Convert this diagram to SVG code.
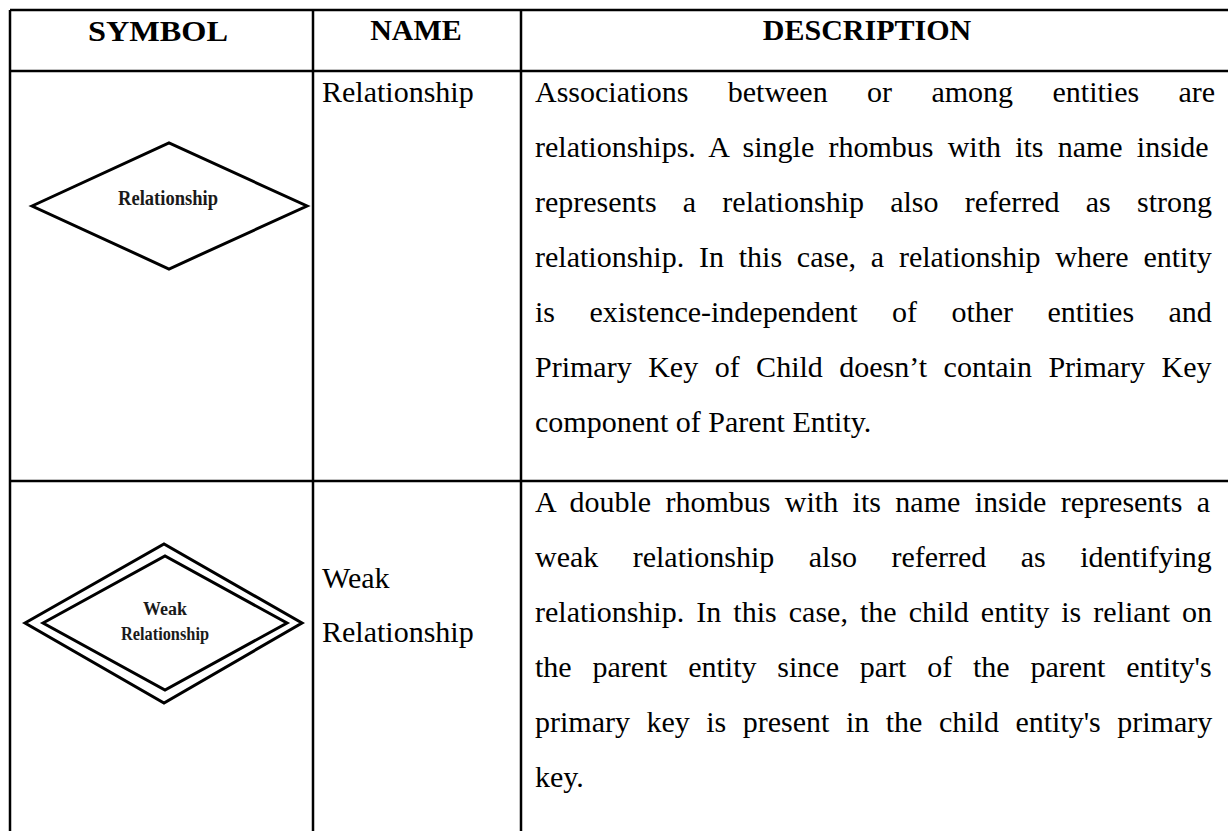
<svg xmlns="http://www.w3.org/2000/svg" width="1228" height="831" viewBox="0 0 1228 831">
  <style>
    .grid { stroke: #000; stroke-width: 2.5; fill: none; }
    .head { font-family: "Liberation Serif", "Times New Roman", serif; font-weight: bold; font-size: 30px; fill: #000; text-anchor: middle; }
    .body { font-family: "Liberation Serif", "Times New Roman", serif; font-size: 30px; fill: #000; }
    .shape { stroke: #000; stroke-width: 3; fill: #fff; stroke-linejoin: miter; }
    .label { font-family: "Liberation Serif", "Times New Roman", serif; font-weight: bold; fill: #1a1a1a; text-anchor: middle; }
  </style>

  <rect width="1228" height="831" fill="#fff"/>

  <!-- table rules -->
  <g id="grid" class="grid">
    <line x1="10" y1="10" x2="1228" y2="10"/>
    <line x1="10" y1="71" x2="1228" y2="71"/>
    <line x1="10" y1="481" x2="1228" y2="481"/>
    <line x1="10" y1="10" x2="10" y2="831"/>
    <line x1="313" y1="10" x2="313" y2="831"/>
    <line x1="521" y1="10" x2="521" y2="831"/>
  </g>

  <!-- column headings -->
  <g id="header">
    <text class="head" x="158" y="41" textLength="140" lengthAdjust="spacingAndGlyphs">SYMBOL</text>
    <text class="head" x="416" y="40">NAME</text>
    <text class="head" x="867" y="40">DESCRIPTION</text>
  </g>

  <!-- row: relationship -->
  <g id="relationship-symbol">
    <polygon class="shape" points="32,206 169,143 307,206 169,269"/>
    <text class="label" x="168" y="205" font-size="22" textLength="100" lengthAdjust="spacingAndGlyphs">Relationship</text>
  </g>
  <g id="relationship-name">
    <text class="body" x="322" y="102">Relationship</text>
  </g>
  <g id="relationship-description" class="body">
    <text x="535" y="102" word-spacing="31.9">Associations between or among entities are</text>
    <text x="535" y="157" word-spacing="6.7">relationships. A single rhombus with its name inside</text>
    <text x="535" y="212" word-spacing="18.7">represents a relationship also referred as strong</text>
    <text x="535" y="267" word-spacing="7.3">relationship. In this case, a relationship where entity</text>
    <text x="535" y="322" word-spacing="26.9">is existence-independent of other entities and</text>
    <text x="535" y="377" word-spacing="9">Primary Key of Child doesn’t contain Primary Key</text>
    <text x="535" y="432">component of Parent Entity.</text>
  </g>

  <!-- row: weak relationship -->
  <g id="weak-relationship-symbol">
    <polygon class="shape" points="25,623 164,544 302,623 164,703"/>
    <polygon class="shape" points="43,623 165,556 287,623 165,690"/>
    <text class="label" x="165" y="615" font-size="18" textLength="44" lengthAdjust="spacingAndGlyphs">Weak</text>
    <text class="label" x="165" y="640" font-size="18" textLength="88" lengthAdjust="spacingAndGlyphs">Relationship</text>
  </g>
  <g id="weak-relationship-name" class="body">
    <text x="322" y="588">Weak</text>
    <text x="322" y="642">Relationship</text>
  </g>
  <g id="weak-relationship-description" class="body">
    <text x="535" y="512" word-spacing="6.9">A double rhombus with its name inside represents a</text>
    <text x="535" y="567" word-spacing="26.9">weak relationship also referred as identifying</text>
    <text x="535" y="622" word-spacing="4.6">relationship. In this case, the child entity is reliant on</text>
    <text x="535" y="677" word-spacing="13.3">the parent entity since part of the parent entity's</text>
    <text x="535" y="732" word-spacing="9">primary key is present in the child entity's primary</text>
    <text x="535" y="787">key.</text>
  </g>
</svg>
